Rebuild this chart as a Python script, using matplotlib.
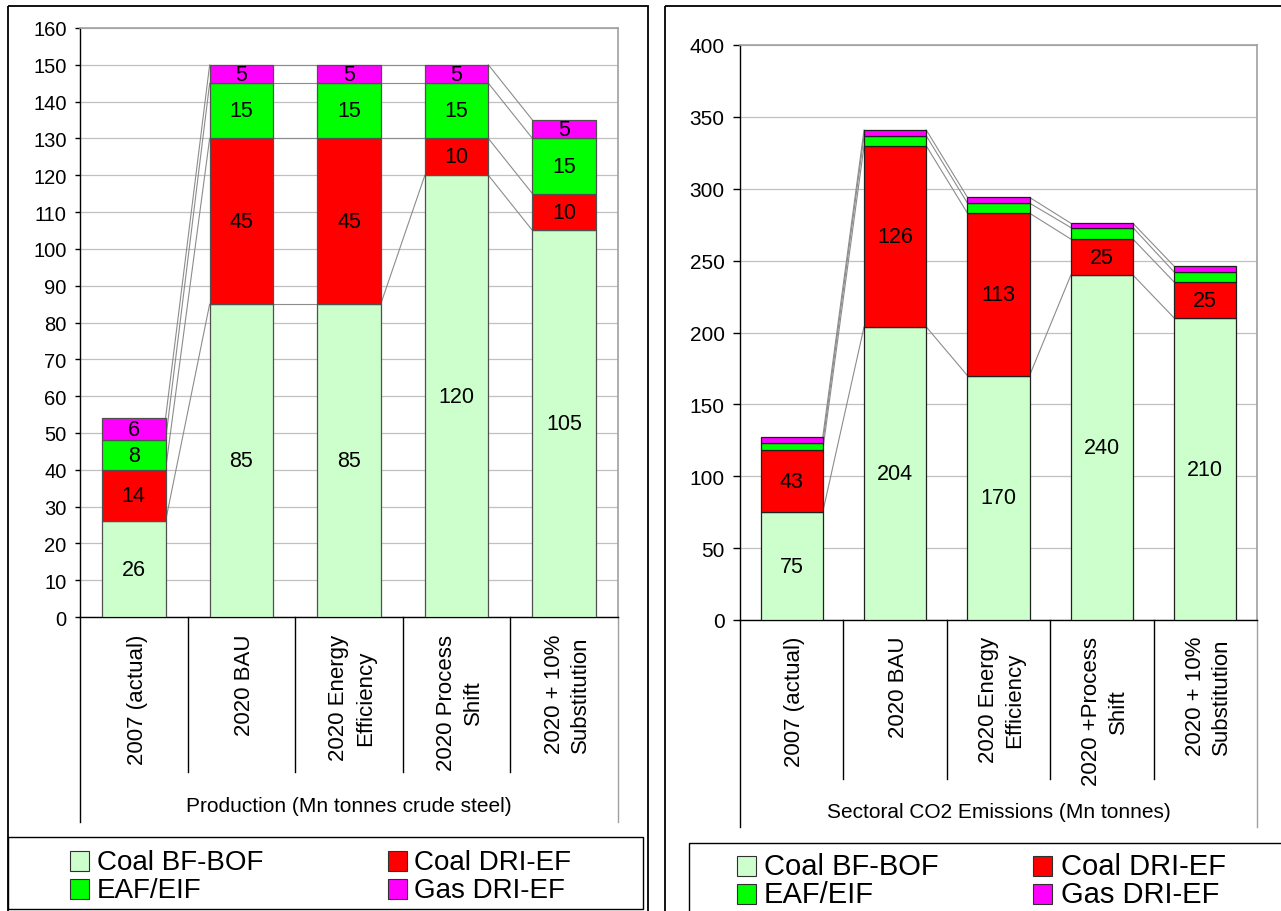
import matplotlib
matplotlib.use('Agg')
import matplotlib.pyplot as plt
from matplotlib.patches import Rectangle
import matplotlib.transforms as mtransforms
import numpy as np

plt.rcParams['font.family'] = ['Liberation Sans', 'DejaVu Sans']

W, H = 1281, 912
DPI = 100

series = ['Coal BF-BOF', 'Coal DRI-EF', 'EAF/EIF', 'Gas DRI-EF']
colors = ['#CCFFCC', '#FF0000', '#00FF00', '#FF00FF']

prod_categories = ['2007 (actual)', '2020 BAU', '2020 Energy\nEfficiency',
                   '2020 Process\nShift', '2020 + 10%\nSubstitution']
prod_bf_bof = [26, 85, 85, 120, 105]
prod_dri_coal = [14, 45, 45, 10, 10]
prod_eaf = [8, 15, 15, 15, 15]
prod_dri_gas = [6, 5, 5, 5, 5]
prod_ticks = list(range(0, 161, 10))
prod_title = 'Production (Mn tonnes crude steel)'

co2_categories = ['2007 (actual)', '2020 BAU', '2020 Energy\nEfficiency',
                  '2020 +Process\nShift', '2020 + 10%\nSubstitution']
co2_bf_bof = [75, 204, 170, 240, 210]
co2_dri_coal = [43, 126, 113, 25, 25]
co2_eaf = [5, 7, 7, 8, 7]
co2_dri_gas = [4, 4, 4, 3, 4]
co2_ticks = list(range(0, 401, 50))
co2_title = 'Sectoral CO2 Emissions (Mn tonnes)'

fig = plt.figure(figsize=(W / DPI, H / DPI), dpi=DPI)


def px_rect(x0, y0, x1, y1):
    return [x0 / W, 1 - y1 / H, (x1 - x0) / W, (y1 - y0) / H]


def draw_chart(box, cats, data, ticks, title, labelled, edge, lab_fs, tick_fs,
               tick_len, sep_bottom, outer_bottom, cat_top, title_y, width):
    x0, y0, x1, y1 = box
    ph = y1 - y0
    ax = fig.add_axes(px_rect(*box))
    x = np.arange(len(cats))
    bottom = np.zeros(len(cats))
    tops = []
    for k, (name, vals, col) in enumerate(zip(series, data, colors)):
        vals = np.array(vals, dtype=float)
        ax.bar(x, vals, width, bottom=bottom, color=col, edgecolor=edge,
               linewidth=0.9, zorder=3)
        if k in labelled:
            for i in range(len(cats)):
                ax.text(x[i], bottom[i] + vals[i] / 2, f'{int(vals[i])}',
                        ha='center', va='center', fontsize=lab_fs, zorder=5)
        bottom = bottom + vals
        tops.append(bottom.copy())
    for top in tops:
        for i in range(len(cats) - 1):
            ax.plot([x[i] + width / 2, x[i + 1] - width / 2], [top[i], top[i + 1]],
                    color='#8C8C8C', lw=0.8, zorder=2)
    ax.set_xlim(-0.5, len(cats) - 0.5)
    ax.set_ylim(ticks[0], ticks[-1])
    ax.set_yticks(ticks)
    ax.set_xticks([])
    ax.yaxis.grid(True, color='#C0C0C0', lw=0.9)
    ax.set_axisbelow(True)
    ax.tick_params(axis='y', labelsize=tick_fs, length=tick_len, width=1,
                   pad=6, color='black')
    for s in ['left', 'bottom']:
        ax.spines[s].set_color('black')
        ax.spines[s].set_linewidth(1.0)
    for s in ['top', 'right']:
        ax.spines[s].set_color('#A0A0A0')
        ax.spines[s].set_linewidth(1.2)
    n = len(cats)
    for k in range(1, n):
        ax.plot([k / n, k / n], [0, -(sep_bottom - y1) / ph], transform=ax.transAxes,
                color='black', lw=1.0, clip_on=False)
    for k in [0, n]:
        ax.plot([k / n, k / n], [0, -(outer_bottom - y1) / ph], transform=ax.transAxes,
                color='black' if k == 0 else '#A0A0A0', lw=1.0, clip_on=False)
    trans = mtransforms.blended_transform_factory(ax.transData, ax.transAxes)
    for i, c in enumerate(cats):
        ax.text(x[i] + 0.03, -(cat_top - y1) / ph, c, transform=trans, rotation=90,
                ha='center', va='top', multialignment='center', fontsize=16,
                linespacing=1.35)
    ax.text(0.5, -(title_y - y1) / ph, title, transform=ax.transAxes,
            ha='center', va='center', fontsize=15)
    return ax


draw_chart((80, 29, 618, 618), prod_categories,
           [prod_bf_bof, prod_dri_coal, prod_eaf, prod_dri_gas], prod_ticks,
           prod_title, labelled=[0, 1, 2, 3], edge='#505050', lab_fs=15.5,
           tick_fs=14.5, tick_len=3.6, sep_bottom=773, outer_bottom=823,
           cat_top=635, title_y=806, width=0.59)

draw_chart((740, 46, 1257, 621), co2_categories,
           [co2_bf_bof, co2_dri_coal, co2_eaf, co2_dri_gas], co2_ticks,
           co2_title, labelled=[0, 1], edge='#202020', lab_fs=15.5,
           tick_fs=15, tick_len=5, sep_bottom=780, outer_bottom=828,
           cat_top=637, title_y=812, width=0.6)

# overlay for frames and legends
ov = fig.add_axes([0, 0, 1, 1])
ov.set_xlim(0, W)
ov.set_ylim(H, 0)
ov.axis('off')
ov.patch.set_alpha(0)

ov.add_patch(Rectangle((8, 7), 640, 930, fill=False, edgecolor='black', lw=1.3))
ov.add_patch(Rectangle((665, 7), 700, 930, fill=False, edgecolor='black', lw=1.3))
ov.add_patch(Rectangle((8, 838), 635, 72, fill=False, edgecolor='black', lw=1.0))
ov.add_patch(Rectangle((689, 844), 700, 100, fill=False, edgecolor='black', lw=1.0))


def draw_legend(hx, tx, base, hsz, fs):
    for idx in range(len(series)):
        col = idx % 2
        row = idx // 2
        ov.add_patch(Rectangle((hx[col], base[row] - hsz[1] + 2), hsz[0], hsz[1],
                               facecolor=colors[idx], edgecolor='#303030', lw=0.8))
        ov.text(tx[col], base[row], series[idx], fontsize=fs, ha='left',
                va='baseline')


draw_legend([70, 388], [97, 414], [870, 898], (19, 20), 20)
draw_legend([737, 1033], [764, 1061], [875, 903], (19, 20), 21)

fig.savefig('out.png', dpi=DPI)
